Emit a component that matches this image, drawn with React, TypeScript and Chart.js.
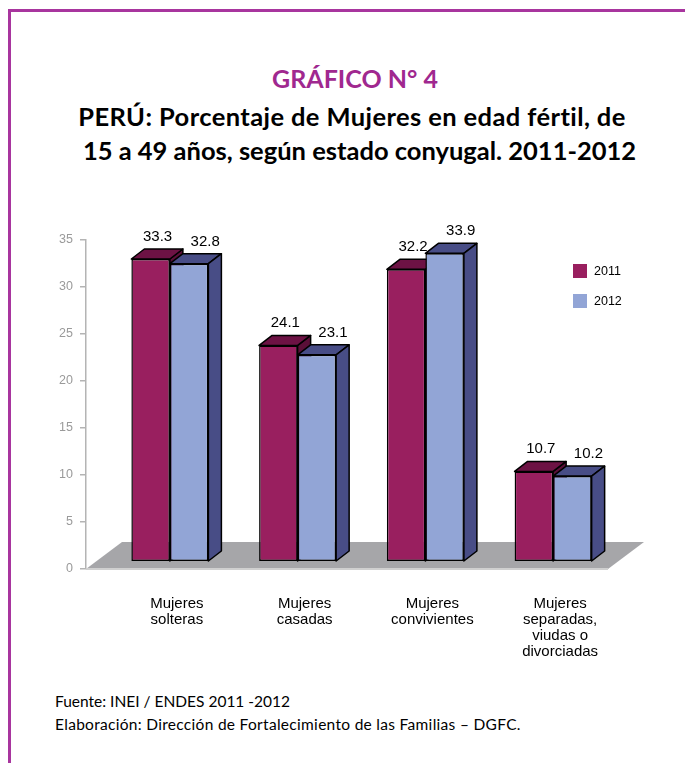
import React, { useEffect, useRef } from "react";
import { Chart, registerables } from "chart.js";

Chart.register(...registerables);

const categories: string[][] = [
  ["Mujeres", "solteras"],
  ["Mujeres", "casadas"],
  ["Mujeres", "convivientes"],
  ["Mujeres", "separadas,", "viudas o", "divorciadas"],
];
const seriesLabels = ["2011", "2012"];
const values2011 = [33.3, 24.1, 32.2, 10.7];
const values2012 = [32.8, 23.1, 33.9, 10.2];
const yTicksMin = 0;
const yTicksMax = 35;
const yTickStep = 5;

const FRONT = ["#991f5f", "#92a5d6"];
const TOP = ["#6d1244", "#484d86"];
const SIDE = ["#5a0f38", "#484d86"];

const DX = 13;
const DY = -10;
const SHIFT_X = 20;
const SHIFT_Y = 3;
const FLOOR_DX = 36;
const FLOOR_DY = -27;
const LABEL_SHIFT = [7, 16];

function face(ctx: CanvasRenderingContext2D, pts: number[][], fill: string) {
  ctx.beginPath();
  ctx.moveTo(pts[0][0], pts[0][1]);
  for (let i = 1; i < pts.length; i++) ctx.lineTo(pts[i][0], pts[i][1]);
  ctx.closePath();
  ctx.fillStyle = fill;
  ctx.fill();
  ctx.lineWidth = 1.5;
  ctx.lineJoin = "round";
  ctx.strokeStyle = "#000";
  ctx.stroke();
}

function barGeom(el: any) {
  const p = el.getProps(["x", "y", "base", "width"], true);
  return { l: p.x - p.width / 2, r: p.x + p.width / 2, t: p.y, b: p.base, x: p.x };
}

function drawTop(ctx: CanvasRenderingContext2D, g: any, fill: string) {
  face(ctx, [[g.l, g.t], [g.r, g.t], [g.r + DX, g.t + DY], [g.l + DX, g.t + DY]], fill);
}
function drawSide(ctx: CanvasRenderingContext2D, g: any, fill: string) {
  face(ctx, [[g.r, g.t], [g.r + DX, g.t + DY], [g.r + DX, g.b + DY], [g.r, g.b]], fill);
}

const bars3d = {
  id: "bars3d",
  beforeDatasetsDraw(chart: any) {
    const ctx: CanvasRenderingContext2D = chart.ctx;
    const area = chart.chartArea;
    const y0 = chart.scales.y.getPixelForValue(0);
    const left = area.left;
    const right = area.right + 11;
    ctx.save();
    ctx.beginPath();
    ctx.moveTo(left, y0);
    ctx.lineTo(right, y0);
    ctx.lineTo(right + FLOOR_DX, y0 + FLOOR_DY);
    ctx.lineTo(left + FLOOR_DX, y0 + FLOOR_DY);
    ctx.closePath();
    ctx.fillStyle = "#a6a6a9";
    ctx.fill();
    ctx.beginPath();
    ctx.moveTo(left, y0);
    ctx.lineTo(right, y0);
    ctx.lineWidth = 2;
    ctx.strokeStyle = "#d0d0d0";
    ctx.stroke();
    ctx.restore();

    ctx.save();
    ctx.translate(SHIFT_X, SHIFT_Y);
    const meta0 = chart.getDatasetMeta(0);
    meta0.data.forEach((el: any) => {
      const g = barGeom(el);
      drawSide(ctx, g, SIDE[0]);
      drawTop(ctx, g, TOP[0]);
    });
  },
  afterDatasetsDraw(chart: any) {
    const ctx: CanvasRenderingContext2D = chart.ctx;
    const meta1 = chart.getDatasetMeta(1);
    meta1.data.forEach((el: any) => {
      const g = barGeom(el);
      drawTop(ctx, g, TOP[1]);
      drawSide(ctx, g, SIDE[1]);
    });
    ctx.restore();

    // value labels
    ctx.save();
    ctx.font = "15px Arial, 'Liberation Sans', sans-serif";
    ctx.fillStyle = "#000";
    ctx.textAlign = "center";
    ctx.textBaseline = "alphabetic";
    chart.data.datasets.forEach((ds: any, di: number) => {
      const meta = chart.getDatasetMeta(di);
      meta.data.forEach((el: any, i: number) => {
        const g = barGeom(el);
        ctx.fillText(ds.data[i].toFixed(1), g.x + SHIFT_X + LABEL_SHIFT[di], g.t + SHIFT_Y - 18);
      });
    });
    ctx.restore();

    // legend
    const area = chart.chartArea;
    ctx.save();
    ctx.font = "12.5px Arial, 'Liberation Sans', sans-serif";
    ctx.textBaseline = "middle";
    ctx.textAlign = "left";
    chart.data.datasets.forEach((ds: any, di: number) => {
      const lx = area.right - 24;
      const ly = area.top + 24 + di * 30;
      ctx.fillStyle = ds.backgroundColor;
      ctx.fillRect(lx, ly, 14, 14);
      ctx.fillStyle = "#000";
      ctx.fillText(ds.label, lx + 21, ly + 7.5);
    });
    ctx.restore();
  },
};

function ChartCanvas() {
  const ref = useRef<HTMLCanvasElement | null>(null);
  useEffect(() => {
    if (!ref.current) return;
    const chart = new Chart(ref.current, {
      type: "bar",
      data: {
        labels: categories as any,
        datasets: [
          {
            label: seriesLabels[0],
            data: values2011,
            backgroundColor: FRONT[0],
            borderColor: "#000",
            borderWidth: 1.5,
            borderSkipped: false,
            base: 1.17,
          } as any,
          {
            label: seriesLabels[1],
            data: values2012,
            backgroundColor: FRONT[1],
            borderColor: "#000",
            borderWidth: 1.5,
            borderSkipped: false,
            base: 1.17,
          } as any,
        ],
      },
      options: {
        animation: false,
        responsive: false,
        devicePixelRatio: 1,
        layout: { padding: { left: 0, right: 88, top: 40, bottom: 11 } },
        datasets: { bar: { barPercentage: 1, categoryPercentage: 0.603 } },
        plugins: { legend: { display: false }, tooltip: { enabled: false }, title: { display: false } },
        scales: {
          x: {
            type: "category",
            offset: true,
            grid: { display: false },
            border: { display: false },
            ticks: {
              color: "#000",
              font: { family: "Arial, 'Liberation Sans', sans-serif", size: 15, lineHeight: 1.07 },
              padding: 19,
              labelOffset: 27,
              maxRotation: 0,
              minRotation: 0,
              autoSkip: false,
            },
            afterFit: (s: any) => {
              s.height = 100;
            },
          },
          y: {
            min: yTicksMin,
            max: yTicksMax,
            ticks: {
              stepSize: yTickStep,
              color: "#9a9a9a",
              font: { family: "Arial, 'Liberation Sans', sans-serif", size: 12.5 },
              padding: 7,
            },
            grid: { drawOnChartArea: false, drawTicks: true, tickLength: 6, color: "#b4b4b4", lineWidth: 1.5 },
            border: { display: true, color: "#b4b4b4", width: 1.5 },
            afterFit: (s: any) => {
              s.width = 75;
            },
          },
        },
      },
      plugins: [bars3d],
    });
    return () => chart.destroy();
  }, []);
  return <canvas ref={ref} width={674} height={480} style={{ display: "block", width: 674, height: 480 }} />;
}

export default function App() {
  const titleFont = "Lato, 'Open Sans', sans-serif";
  return (
    <div
      style={{
        position: "absolute",
        left: 8,
        top: 9,
        width: 677,
        height: 754,
        boxSizing: "border-box",
        borderTop: "3px solid #a8359e",
        borderLeft: "3px solid #a8359e",
        overflow: "hidden",
        background: "#fff",
      }}
    >
      <div
        style={{
          position: "absolute",
          left: 0,
          top: 51,
          width: 688,
          textAlign: "center",
          fontFamily: titleFont,
          fontWeight: 700,
          fontSize: 25,
          lineHeight: "30px",
          color: "#a0288f",
          whiteSpace: "nowrap",
        }}
      >
        GRÁFICO N° 4
      </div>
      <div
        style={{
          position: "absolute",
          left: 0,
          top: 87,
          width: 688,
          textAlign: "center",
          fontFamily: titleFont,
          fontWeight: 700,
          fontSize: 25.5,
          lineHeight: "34px",
          color: "#000",
          whiteSpace: "nowrap",
        }}
      >
        <div style={{ paddingRight: 6, letterSpacing: 0.4 }}>PERÚ: Porcentaje de Mujeres en edad fértil, de</div>
        <div style={{ paddingLeft: 9 }}>15 a 49 años, según estado conyugal. 2011-2012</div>
      </div>
      <div style={{ position: "absolute", left: 0, top: 188 }}>
        <ChartCanvas />
      </div>
      <div
        style={{
          position: "absolute",
          left: 44,
          top: 678,
          fontFamily: titleFont,
          fontSize: 15.5,
          lineHeight: "23px",
          color: "#000",
          whiteSpace: "nowrap",
        }}
      >
        <div>Fuente: INEI / ENDES 2011 -2012</div>
        <div style={{ letterSpacing: 0.3 }}>Elaboración: Dirección de Fortalecimiento de las Familias – DGFC.</div>
      </div>
    </div>
  );
}
